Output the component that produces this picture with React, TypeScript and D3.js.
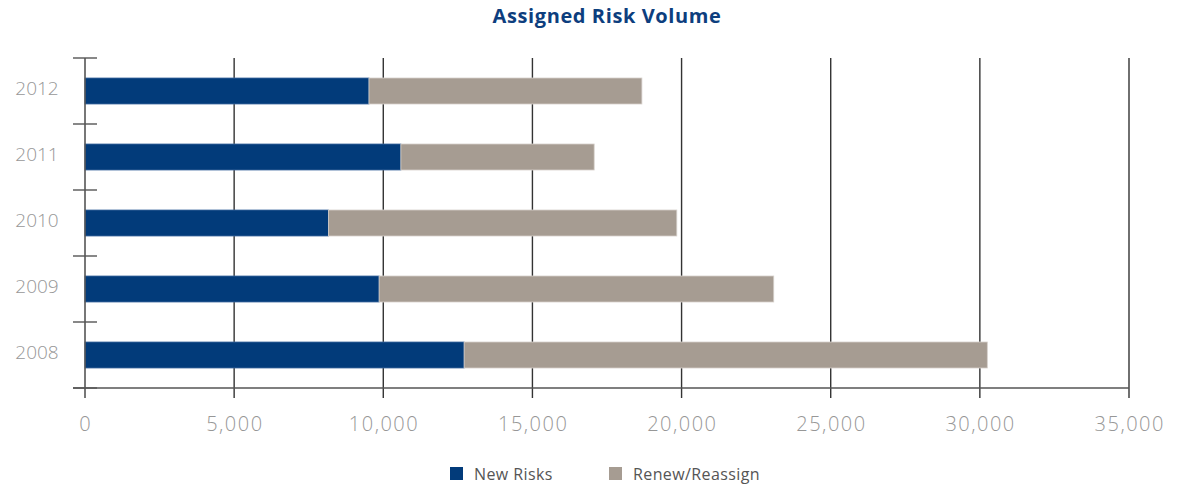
import React from "react";
import * as d3 from "d3";

const years = ["2012", "2011", "2010", "2009", "2008"];
const newRisks = [9520, 10590, 8160, 9860, 12710];
const renewReassign = [9150, 6480, 11680, 13230, 17540];
const xTicks = [0, 5000, 10000, 15000, 20000, 25000, 30000, 35000];
const seriesNames = ["New Risks", "Renew/Reassign"];
const seriesColors = ["#023B7A", "#A69C92"];
const seriesStrokes = ["#3F6AA0", "#D6D0CB"];

const W = 1180;
const H = 485;
const left = 85;
const right = 1129;
const top = 58;
const bottom = 388;

export default function App() {
  const x = d3.scaleLinear().domain([0, 35000]).range([left, right]);
  const y = d3.scaleBand<string>().domain(years).range([top, bottom]).paddingInner(0.606).paddingOuter(0.303);
  const fmt = d3.format(",");
  const rows = years.map((yr, i) => ({ yr, vals: [newRisks[i], renewReassign[i]] }));
  const stack = d3.stack<any>().keys(["0", "1"]).value((d: any, k: string) => d.vals[+k]);
  const stacked = stack(rows as any);
  const bandEdges = d3.range(years.length + 1).map((i) => top + ((bottom - top) / years.length) * i);
  const font = "'Open Sans', sans-serif";

  return (
    <svg width={W} height={H} style={{ position: "absolute", left: 0, top: 0, background: "#fff" }}>
      <text x={607} y={23} textAnchor="middle" fontFamily={font} fontWeight={700} fontSize={20} letterSpacing={0.6} fill="#0D3E7E">
        Assigned Risk Volume
      </text>
      {xTicks.slice(1).map((t) => (
        <line key={"g" + t} x1={x(t)} x2={x(t)} y1={top} y2={bottom + 10} stroke="#333" strokeWidth={1.4} />
      ))}
      {stacked.map((s, si) =>
        s.map((d: any, i: number) => (
          <rect
            key={si + "-" + i}
            x={x(d[0])}
            y={y(d.data.yr)!}
            width={x(d[1]) - x(d[0])}
            height={y.bandwidth()}
            fill={seriesColors[si]}
            stroke={seriesStrokes[si]}
            strokeWidth={0.8}
          />
        ))
      )}
      <line x1={left} x2={left} y1={top} y2={bottom + 10} stroke="#555" strokeWidth={1.6} />
      {bandEdges.map((e, i) => (
        <line key={"t" + i} x1={73} x2={97} y1={e} y2={e} stroke="#555" strokeWidth={1.4} />
      ))}
      <line x1={73} x2={right} y1={bottom} y2={bottom} stroke="#555" strokeWidth={1.6} />
      {years.map((yr) => (
        <text
          key={yr}
          x={37}
          y={y(yr)! + y.bandwidth() / 2 - 3}
          dy="0.35em"
          textAnchor="middle"
          fontFamily={font}
          fontSize={19}
          fontWeight={300}
          fill="#979797"
        >
          {yr}
        </text>
      ))}
      {xTicks.map((t) => (
        <text
          key={"l" + t}
          x={x(t) + 0.75}
          y={424}
          dy="0.35em"
          textAnchor="middle"
          fontFamily={font}
          fontSize={20}
          fontWeight={300}
          letterSpacing={1.5}
          fill="#979797"
        >
          {fmt(t)}
        </text>
      ))}
      {seriesNames.map((n, i) => {
        const lx = i === 0 ? 450 : 609;
        return (
          <g key={n}>
            <rect x={lx} y={467} width={13} height={13} fill={seriesColors[i]} />
            <text x={lx + 24} y={474} dy="0.35em" fontFamily={font} fontSize={16} letterSpacing={0.4} fill="#555">
              {n}
            </text>
          </g>
        );
      })}
    </svg>
  );
}
